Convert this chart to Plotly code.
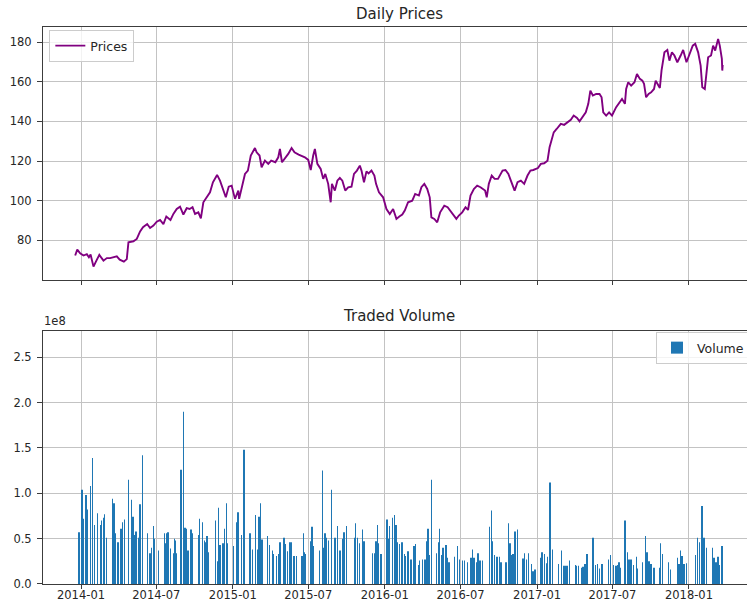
import pandas as pd
import plotly.graph_objects as go

# ---- daily closing prices (sampled) ----
price_dates = [
    "2013-12-18", "2013-12-23", "2013-12-30", "2014-01-07", "2014-01-15", "2014-01-20",
    "2014-01-24", "2014-01-31", "2014-02-07", "2014-02-14", "2014-02-24", "2014-03-04",
    "2014-03-12", "2014-03-20", "2014-03-28", "2014-04-04", "2014-04-14", "2014-04-21",
    "2014-04-25", "2014-05-07", "2014-05-15", "2014-05-23", "2014-05-30", "2014-06-09",
    "2014-06-16", "2014-06-24", "2014-07-02", "2014-07-10", "2014-07-18", "2014-07-25",
    "2014-08-04", "2014-08-11", "2014-08-19", "2014-08-27", "2014-09-04", "2014-09-12",
    "2014-09-19", "2014-09-26", "2014-10-02", "2014-10-10", "2014-10-16", "2014-10-22",
    "2014-10-30", "2014-11-07", "2014-11-14", "2014-11-24", "2014-12-01", "2014-12-09",
    "2014-12-15", "2014-12-22", "2014-12-29", "2015-01-06", "2015-01-14", "2015-01-16",
    "2015-01-23", "2015-01-30", "2015-02-06", "2015-02-13", "2015-02-23", "2015-02-27",
    "2015-03-06", "2015-03-11", "2015-03-19", "2015-03-27", "2015-04-03", "2015-04-13",
    "2015-04-20", "2015-04-24", "2015-04-29", "2015-05-06", "2015-05-14", "2015-05-22",
    "2015-05-29", "2015-06-08", "2015-06-15", "2015-06-23", "2015-07-01", "2015-07-07",
    "2015-07-13", "2015-07-17", "2015-07-23", "2015-07-31", "2015-08-06", "2015-08-11",
    "2015-08-18", "2015-08-24", "2015-08-27", "2015-09-03", "2015-09-09", "2015-09-15",
    "2015-09-21", "2015-09-28", "2015-10-05", "2015-10-13", "2015-10-19", "2015-10-26",
    "2015-11-02", "2015-11-06", "2015-11-12", "2015-11-18", "2015-11-23", "2015-11-30",
    "2015-12-07", "2015-12-11", "2015-12-18", "2015-12-28", "2016-01-05", "2016-01-13",
    "2016-01-21", "2016-01-29", "2016-02-05", "2016-02-12", "2016-02-18", "2016-02-26",
    "2016-03-07", "2016-03-14", "2016-03-23", "2016-03-29", "2016-04-05", "2016-04-12",
    "2016-04-18", "2016-04-22", "2016-04-29", "2016-05-06", "2016-05-13", "2016-05-23",
    "2016-05-31", "2016-06-06", "2016-06-13", "2016-06-21", "2016-06-27", "2016-07-05",
    "2016-07-13", "2016-07-19", "2016-07-25", "2016-08-02", "2016-08-10", "2016-08-18",
    "2016-08-29", "2016-09-02", "2016-09-07", "2016-09-14", "2016-09-21", "2016-09-29",
    "2016-10-10", "2016-10-17", "2016-10-24", "2016-10-31", "2016-11-08", "2016-11-15",
    "2016-11-23", "2016-12-01", "2016-12-09", "2016-12-16", "2016-12-23", "2017-01-03",
    "2017-01-10", "2017-01-18", "2017-01-26", "2017-01-31", "2017-02-06", "2017-02-10",
    "2017-02-17", "2017-02-27", "2017-03-07", "2017-03-15", "2017-03-23", "2017-03-30",
    "2017-04-07", "2017-04-13", "2017-04-20", "2017-04-28", "2017-05-04", "2017-05-09",
    "2017-05-15", "2017-05-23", "2017-05-31", "2017-06-05", "2017-06-09", "2017-06-16",
    "2017-06-23", "2017-06-30", "2017-07-10", "2017-07-18", "2017-07-24", "2017-07-31",
    "2017-08-03", "2017-08-08", "2017-08-15", "2017-08-23", "2017-08-29", "2017-09-05",
    "2017-09-11", "2017-09-15", "2017-09-20", "2017-09-26", "2017-10-02", "2017-10-09",
    "2017-10-13", "2017-10-23", "2017-10-27", "2017-11-03", "2017-11-10", "2017-11-15",
    "2017-11-21", "2017-11-27", "2017-12-04", "2017-12-12", "2017-12-18", "2017-12-26",
    "2018-01-02", "2018-01-10", "2018-01-16", "2018-01-23", "2018-01-29", "2018-02-02",
    "2018-02-08", "2018-02-12", "2018-02-16", "2018-02-23", "2018-02-28", "2018-03-05",
    "2018-03-12", "2018-03-16", "2018-03-20", "2018-03-21", "2018-03-22", "2018-03-23",
]
prices = [
    72.3, 75.3, 73.4, 72.3, 73.0, 71.4,
    72.8, 66.7, 69.7, 72.6, 69.7, 71.0,
    71.0, 71.4, 71.9, 70.2, 69.2, 70.5,
    79.0, 79.5, 80.7, 84.5, 86.6, 88.2,
    86.2, 87.4, 89.4, 90.3, 88.2, 92.0,
    90.3, 93.3, 95.8, 97.0, 93.0, 96.2,
    95.8, 96.7, 93.3, 94.1, 91.1, 99.2,
    101.7, 104.2, 109.3, 113.0, 110.1, 105.1,
    101.7, 107.1, 107.6, 100.9, 105.1, 100.9,
    106.7, 113.5, 115.2, 122.8, 126.6, 124.4,
    122.8, 116.9, 120.2, 118.6, 120.2, 119.4,
    121.9, 126.1, 119.4, 121.1, 123.6, 126.6,
    124.4, 123.3, 122.8, 121.9, 120.6, 115.5,
    122.8, 126.1, 118.6, 116.0, 111.0, 113.5,
    108.5, 99.2, 108.5, 105.1, 110.1, 111.5,
    110.1, 105.1, 106.7, 107.1, 113.5, 115.2,
    117.7, 115.2, 109.3, 114.8, 113.8, 115.2,
    112.7, 108.5, 104.2, 101.7, 95.8, 93.3,
    95.8, 90.8, 92.0, 93.0, 95.0, 99.2,
    100.0, 103.4, 102.6, 106.8, 108.5, 105.9,
    101.7, 91.6, 90.8, 89.1, 94.1, 97.5,
    96.7, 95.0, 93.3, 90.8, 92.5, 94.1,
    96.7, 95.3, 102.6, 105.9, 107.6, 106.8,
    105.1, 101.7, 108.5, 112.7, 111.0, 111.0,
    115.2, 115.5, 113.5, 109.3, 105.1, 109.3,
    110.1, 108.5, 112.7, 115.2, 115.5, 116.5,
    118.6, 118.9, 120.2, 127.0, 132.0, 134.5,
    136.2, 138.8, 138.3, 139.6, 140.8, 143.0,
    141.8, 140.1, 142.1, 144.6, 148.9, 155.6,
    153.1, 153.9, 153.9, 152.2, 144.6, 143.0,
    144.6, 143.0, 147.2, 149.7, 151.4, 148.9,
    156.4, 159.8, 158.1, 159.8, 164.0, 161.5,
    160.6, 159.0, 152.2, 153.9, 154.7, 156.4,
    160.6, 156.9, 165.7, 174.9, 176.1, 170.7,
    174.9, 173.3, 169.9, 173.3, 176.1, 169.9,
    174.1, 178.3, 179.2, 174.9, 168.2, 157.3,
    156.4, 164.0, 172.4, 173.3, 178.3, 175.8,
    181.7, 178.3, 172.4, 171.6, 165.7, 168.5,
]

# ---- traded volume (millions of shares) ----
volume_dates = [
    "2013-12-27", "2014-01-03", "2014-01-06", "2014-01-13", "2014-01-17", "2014-01-23",
    "2014-01-28", "2014-02-03", "2014-02-10", "2014-02-18", "2014-02-19", "2014-02-24",
    "2014-02-26", "2014-03-03", "2014-03-18", "2014-03-21", "2014-03-25", "2014-03-31",
    "2014-04-07", "2014-04-10", "2014-04-11", "2014-04-15", "2014-04-25", "2014-05-02",
    "2014-05-06", "2014-05-09", "2014-05-13", "2014-05-19", "2014-05-23", "2014-05-28",
    "2014-06-09", "2014-06-16", "2014-06-20", "2014-06-25", "2014-06-27", "2014-07-07",
    "2014-07-21", "2014-07-22", "2014-07-25", "2014-07-29", "2014-08-04", "2014-08-11",
    "2014-08-13", "2014-08-15", "2014-08-19", "2014-08-29", "2014-09-05", "2014-09-08",
    "2014-09-12", "2014-09-15", "2014-09-22", "2014-09-26", "2014-10-10", "2014-10-13",
    "2014-10-20", "2014-10-24", "2014-10-28", "2014-10-31", "2014-11-03", "2014-11-21",
    "2014-11-25", "2014-11-28", "2014-12-01", "2014-12-08", "2014-12-12", "2014-12-16",
    "2014-12-19", "2015-01-02", "2015-01-09", "2015-01-13",
    "2015-01-22", "2015-01-28", "2015-02-11", "2015-02-17", "2015-02-24", "2015-03-02",
    "2015-03-05", "2015-03-09", "2015-03-12", "2015-03-25", "2015-03-30", "2015-04-06",
    "2015-04-08", "2015-04-15", "2015-04-21", "2015-04-24", "2015-05-04", "2015-05-06",
    "2015-05-12", "2015-05-18", "2015-05-22", "2015-05-28", "2015-06-03", "2015-06-16",
    "2015-06-19", "2015-06-22", "2015-06-25", "2015-07-07", "2015-07-10", "2015-07-14",
    "2015-07-28", "2015-08-04", "2015-08-07", "2015-08-10", "2015-08-14", "2015-08-19",
    "2015-08-26", "2015-09-03", "2015-09-09", "2015-09-15", "2015-09-21", "2015-09-25",
    "2015-10-01", "2015-10-21", "2015-10-23", "2015-10-28", "2015-11-02", "2015-11-09",
    "2015-11-12", "2015-12-02", "2015-12-07", "2015-12-11", "2015-12-14", "2015-12-17",
    "2015-12-23", "2016-01-06", "2016-01-11", "2016-01-13", "2016-01-19", "2016-01-25",
    "2016-01-28", "2016-02-01", "2016-02-05",
    "2016-02-11", "2016-02-17", "2016-02-19", "2016-02-24", "2016-02-26", "2016-03-04",
    "2016-03-11", "2016-03-14", "2016-03-22", "2016-03-25", "2016-04-01", "2016-04-07",
    "2016-04-11", "2016-04-14", "2016-04-18", "2016-04-22", "2016-05-05", "2016-05-09",
    "2016-05-12", "2016-05-16", "2016-05-20", "2016-05-27", "2016-05-31", "2016-06-03",
    "2016-06-17", "2016-06-24", "2016-06-28", "2016-07-05", "2016-07-11", "2016-07-18",
    "2016-07-26", "2016-07-29", "2016-08-02", "2016-08-08", "2016-08-12", "2016-08-17",
    "2016-08-23", "2016-09-09", "2016-09-13", "2016-09-16", "2016-09-20", "2016-09-27",
    "2016-10-03", "2016-10-06", "2016-10-18", "2016-10-24", "2016-10-28", "2016-11-02",
    "2016-11-04", "2016-11-09", "2016-11-15", "2016-11-28", "2016-12-01", "2016-12-06",
    "2016-12-12", "2016-12-19", "2016-12-22", "2016-12-27", "2017-01-10", "2017-01-13",
    "2017-01-18", "2017-01-23", "2017-01-26", "2017-02-01", "2017-02-07", "2017-02-22",
    "2017-02-28", "2017-03-06", "2017-03-09", "2017-03-14",
    "2017-03-20", "2017-04-03", "2017-04-06", "2017-04-10", "2017-04-17", "2017-04-21",
    "2017-04-26", "2017-05-01", "2017-05-15", "2017-05-22", "2017-05-26", "2017-05-31",
    "2017-06-06", "2017-06-22", "2017-06-27", "2017-07-03", "2017-07-10", "2017-07-13",
    "2017-07-17", "2017-07-20", "2017-07-31", "2017-08-07", "2017-08-10", "2017-08-15",
    "2017-08-21", "2017-08-28", "2017-08-31", "2017-09-12", "2017-09-18", "2017-09-22",
    "2017-09-27", "2017-10-02", "2017-10-09", "2017-10-23", "2017-10-25", "2017-10-30",
    "2017-11-13", "2017-11-17", "2017-12-04", "2017-12-08", "2017-12-12", "2017-12-15",
    "2017-12-20", "2017-12-26", "2018-01-16", "2018-01-22", "2018-01-26", "2018-02-01",
    "2018-02-02", "2018-02-06", "2018-02-12", "2018-02-26", "2018-03-02", "2018-03-07",
    "2018-03-12", "2018-03-16", "2018-03-21", "2018-03-23",
]
volume_mn = [
    57, 104, 72, 98, 82, 108,
    139, 65, 78, 65, 70, 73,
    77, 51, 94, 89, 56, 46,
    61, 68, 53, 71, 115, 93,
    74, 54, 58, 51, 88, 142,
    56, 34, 40, 64, 50, 37,
    56, 45, 56, 57, 39, 34,
    50, 48, 34, 126, 190, 62,
    61, 37, 60, 56, 54, 72,
    68, 48, 46, 53, 35, 70,
    25, 84, 43, 45, 61, 89,
    45, 42, 68, 79,
    54, 148, 56, 38, 76, 38,
    74, 89, 49, 53, 43, 37,
    33, 31, 33, 46, 51, 44,
    36, 46, 46, 31, 31, 31,
    56, 35, 33, 47, 63, 42,
    37, 125, 40, 56, 51, 48,
    104, 51, 64, 37, 50, 57,
    64, 51, 67, 51, 45, 60,
    47, 34, 34, 47, 65, 45,
    33, 71, 50, 64, 73, 76,
    65, 46, 44,
    46, 33, 31, 35, 36, 27,
    42, 44, 21, 26, 27, 27,
    47, 61, 32, 115, 34, 46,
    61, 32, 40, 43, 29, 24,
    30, 42, 27, 26, 26, 24,
    29, 38, 29, 24, 34, 26,
    26, 63, 81, 47, 32, 30,
    30, 24, 24, 67, 45, 32,
    33, 58, 60, 28, 34, 27,
    34, 22, 14, 16, 29, 35,
    33, 23, 30, 112, 38, 22,
    37, 20, 20, 20,
    26, 21, 20, 20, 18, 19,
    22, 33, 51, 21, 22, 17,
    22, 27, 32, 21, 20, 21,
    24, 18, 70, 35, 27, 27,
    21, 30, 17, 24, 53, 35,
    25, 22, 18, 18, 45, 33,
    24, 16, 29, 22, 37, 31,
    22, 23, 32, 51, 46, 86,
    67, 51, 40, 40, 29, 24,
    30, 21, 42, 37,
]

x_ticks = ["2014-01-01", "2014-07-01", "2015-01-01", "2015-07-01", "2016-01-01",
           "2016-07-01", "2017-01-01", "2017-07-01", "2018-01-01"]
price_ticks = [80, 100, 120, 140, 160, 180]
volume_ticks = [0.0, 0.5, 1.0, 1.5, 2.0, 2.5]

price_x = pd.to_datetime(price_dates)
volume_x = pd.to_datetime(volume_dates)
volume = [v * 1e6 for v in volume_mn]

FONT = "DejaVu Sans"
TXT = "#262626"
GRID = "#c3c3c3"
SPINE = "#3c3c3c"
BAR_WIDTH_MS = 0.8 * 24 * 3600 * 1000

fig = go.Figure()
fig.add_trace(go.Scatter(
    x=price_x, y=prices, mode="lines", name="Prices",
    line=dict(color="#800080", width=1.9),
    xaxis="x", yaxis="y", legend="legend",
))
fig.add_trace(go.Bar(
    x=volume_x, y=volume, name="Volume", width=BAR_WIDTH_MS,
    marker=dict(color="#1f77b4", line=dict(width=0)),
    xaxis="x2", yaxis="y2", legend="legend2",
))

x_range = ["2013-10-01 16:00", "2018-05-20 10:00"]
common_x = dict(
    type="date", range=x_range, tickvals=x_ticks, showgrid=True, gridcolor=GRID,
    gridwidth=1, zeroline=False, showline=True, linecolor=SPINE, linewidth=1,
    mirror=True, ticks="outside", ticklen=4, tickwidth=1, tickcolor=SPINE,
)
common_y = dict(
    showgrid=True, gridcolor=GRID, gridwidth=1, zeroline=False, showline=True,
    linecolor=SPINE, linewidth=1, ticks="outside", ticklen=5, tickwidth=1,
    tickcolor=SPINE, tickfont=dict(family=FONT, size=11.5, color=TXT),
    ticklabelstandoff=3,
)

fig.update_layout(
    width=747, height=606,
    margin=dict(l=43, r=0, t=27, b=22, autoexpand=False),
    paper_bgcolor="white", plot_bgcolor="white",
    font=dict(family=FONT, size=11.5, color=TXT),
    showlegend=True,
    xaxis=dict(common_x, domain=[0, 1], anchor="y", showticklabels=False),
    yaxis=dict(common_y, domain=[0.5458, 1.0], anchor="x", range=[59.95, 187.7],
               tickvals=price_ticks),
    xaxis2=dict(common_x, domain=[0, 1], anchor="y2", matches="x",
                tickformat="%Y-%m", ticklabelstandoff=-4,
                tickfont=dict(family=FONT, size=11.5, color=TXT)),
    yaxis2=dict(common_y, domain=[0, 0.4548], anchor="x2", range=[0, 2.7925e8],
                tickvals=[t * 1e8 for t in volume_ticks],
                ticktext=[f"{t:.1f}" for t in volume_ticks]),
    legend=dict(
        x=0.009, y=0.9946, xanchor="left", yanchor="top",
        bgcolor="rgba(255,255,255,0.8)", bordercolor="#cccccc", borderwidth=1,
        font=dict(family=FONT, size=12.5, color=TXT),
    ),
    legend2=dict(
        x=0.8707, y=0.4524, xanchor="left", yanchor="top",
        bgcolor="rgba(255,255,255,0.8)", bordercolor="#cccccc", borderwidth=1,
        font=dict(family=FONT, size=12.5, color=TXT),
    ),
    annotations=[
        dict(text="Daily Prices", xref="paper", yref="paper", x=0.506, y=1.0239,
             xanchor="center", yanchor="middle", showarrow=False,
             font=dict(family=FONT, size=15, color=TXT)),
        dict(text="Traded Volume", xref="paper", yref="paper", x=0.506, y=0.4804,
             xanchor="center", yanchor="middle", showarrow=False,
             font=dict(family=FONT, size=15, color=TXT)),
        dict(text="1e8", xref="paper", yref="paper", x=0.0, y=0.4728,
             xanchor="left", yanchor="middle", showarrow=False, xshift=-1,
             font=dict(family=FONT, size=11.5, color=TXT)),
    ],
)

fig.write_html("out.html", config={"displayModeBar": False})
